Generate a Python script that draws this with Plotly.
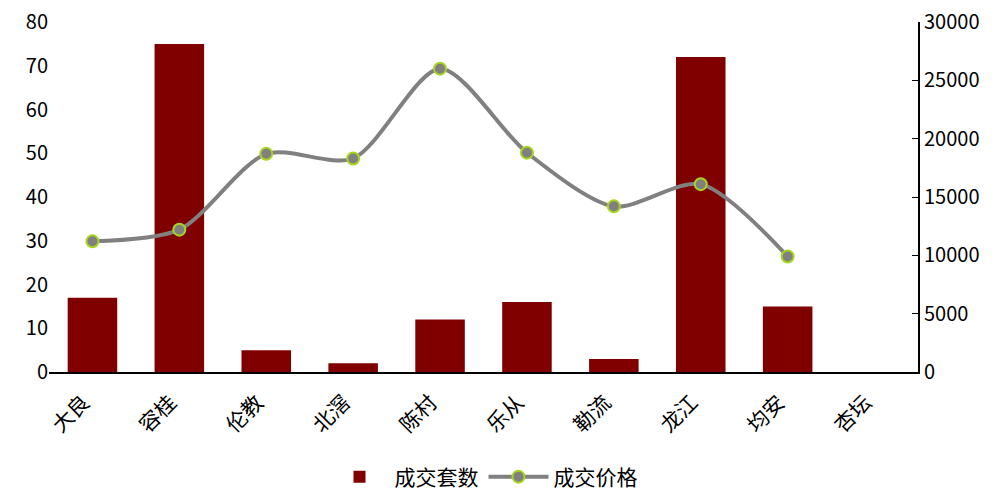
import plotly.graph_objects as go

categories = ["大良", "容桂", "伦教", "北滘", "陈村", "乐从", "勒流", "龙江", "均安", "杏坛"]
units_sold = [17, 75, 5, 2, 12, 16, 3, 72, 15, 0]
avg_price = [11200, 12200, 18700, 18300, 26000, 18800, 14200, 16100, 9900, None]

left_ticks = [0, 10, 20, 30, 40, 50, 60, 70, 80]
right_ticks = [0, 5000, 10000, 15000, 20000, 25000, 30000]

FONT = "Noto Sans CJK SC, Noto Sans, sans-serif"

fig = go.Figure()
fig.add_trace(go.Bar(
    x=categories, y=units_sold, name="成交套数",
    marker=dict(color="#800000", line=dict(width=0)),
    width=0.57, yaxis="y",
))
fig.add_trace(go.Scatter(
    x=categories, y=avg_price, name="成交价格", yaxis="y2",
    mode="lines+markers",
    line=dict(color="#808080", width=4, shape="spline", smoothing=0.8),
    marker=dict(size=12, color="#808080", line=dict(color="#A6D51E", width=2)),
    connectgaps=False,
))

fig.update_layout(
    width=997, height=490,
    margin=dict(l=49, r=79, t=22, b=118, autoexpand=False),
    paper_bgcolor="white", plot_bgcolor="white",
    font=dict(family=FONT, size=20, color="#000000"),
    showlegend=True,
    legend=dict(orientation="h", x=0.5, xanchor="center", y=-0.3, yanchor="middle",
                yref="paper", font=dict(size=21), itemwidth=60),
    xaxis=dict(
        type="category", showline=True, linecolor="#000000", linewidth=2,
        ticks="", tickangle=-45, showgrid=False, zeroline=False, automargin=False,
        tickfont=dict(size=21), range=[-0.5, 9.5],
        ticklabelshift=-9, ticklabelstandoff=8,
    ),
    yaxis=dict(
        range=[0, 80], tickvals=left_ticks, showgrid=False, zeroline=False,
        showline=False, ticks="", tickfont=dict(size=20), automargin=False,
    ),
    yaxis2=dict(
        range=[0, 30000], tickvals=right_ticks, ticktext=[str(v) for v in right_ticks],
        overlaying="y", side="right", automargin=False,
        showgrid=False, zeroline=False, showline=True, linecolor="#000000",
        linewidth=2, ticks="inside", ticklen=6, tickcolor="#000000",
        tickfont=dict(size=20),
    ),
)

fig.write_html(
    "out.html",
    config={"displayModeBar": False},
    post_script="document.body.style.margin='0';document.body.style.overflow='hidden';",
)
